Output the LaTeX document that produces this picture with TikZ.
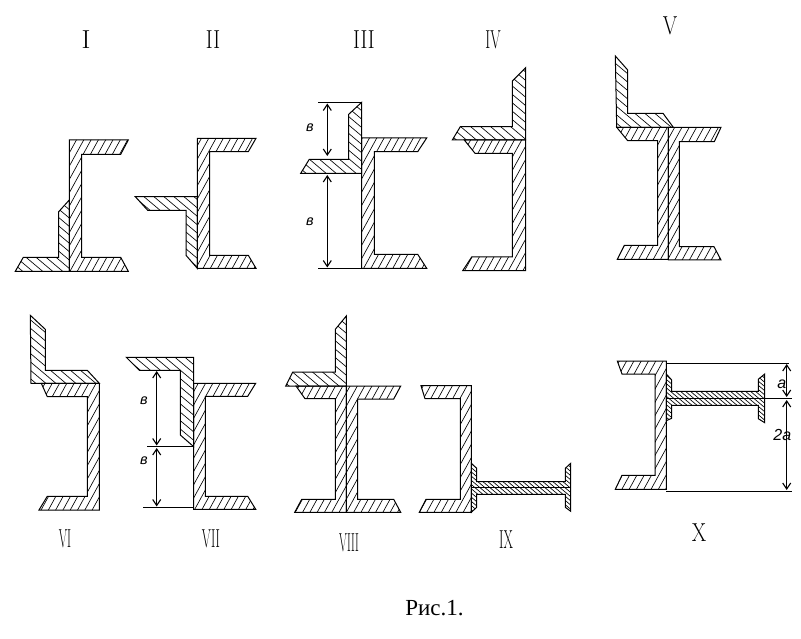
\documentclass[tikz,border=0pt]{standalone}
\usepackage{fontspec}
\newfontfamily\capfont{Liberation Serif}
\newfontfamily\dimfont{Liberation Sans}
\usetikzlibrary{arrows.meta}
\tikzset{
    hatch/.style={line width=0.65pt},
    outline/.style={draw,line width=1pt}
}
% hatched sections: path is clipped, lines are laid over the whole sheet
\newcommand{\hatchChan}[1]{%
    \begin{scope}\clip #1;
        \foreach \k in {0,7.3,...,1160} \draw[hatch] (\k,0) -- ({\k-351},639);
    \end{scope}
    \draw[outline] #1;}
\newcommand{\hatchCorner}[1]{%
    \begin{scope}\clip #1;
        \foreach \k in {-770,-760,...,810} \draw[hatch] (\k,0) -- ({\k+760},639);
    \end{scope}
    \draw[outline] #1;}
\newcommand{\hatchBeam}[1]{%
    \begin{scope}\clip #1;
        \foreach \k in {-200,-195,...,340} \draw[hatch] (\k,0) -- ({\k+760},639);
    \end{scope}
    \draw[outline] #1;}
\begin{document}
\begin{tikzpicture}[x=1pt,y=-1pt,line join=miter]
        \tikzstyle{ext}=[line width=1pt]
        \tikzstyle{dim}=[line width=1.1pt,{Straight Barb[length=6pt,width=8pt]}-{Straight Barb[length=6pt,width=8pt]}]
        \tikzstyle{numeral}=[inner sep=0pt,xscale=0.8,font=\fontsize{26}{26}\selectfont]
        \tikzstyle{dimlabel}=[inner sep=0pt,font=\dimfont\itshape\fontsize{14.5}{15}\selectfont]
        \tikzstyle{dimlabelbig}=[inner sep=0pt,font=\dimfont\itshape\fontsize{16}{16}\selectfont]
        \path[use as bounding box,fill=white] (0,0) rectangle (801,639);
        % I
        \hatchChan{(69.3,140) -- (128.3,140) -- (120.7,154.3) -- (81.7,154.3) -- (81.7,257.3) -- (120.7,257.3) -- (128.3,271.3) -- (69.3,271.3) -- cycle}
        \hatchCorner{(69.3,200) -- (58.7,211.7) -- (58.7,257.3) -- (23.3,257.3) -- (15.3,271.3) -- (69.3,271.3) -- cycle}
        \node[numeral,xscale=1.3] (numI) at (86,40) {I};
        % II
        \hatchChan{(197.3,138.3) -- (256,138.3) -- (248.3,151.7) -- (209.7,151.7) -- (209.7,255.3) -- (248.3,255.3) -- (256,268.3) -- (197.3,268.3) -- cycle}
        \hatchCorner{(197.3,196.7) -- (135.3,196.7) -- (147.7,210.3) -- (186,210.3) -- (186,255.3) -- (197.3,268.3) -- cycle}
        \node[numeral] (numII) at (213,40) {II};
        % III
        \hatchChan{(361.7,138) -- (426.7,138) -- (417.7,151.7) -- (374.3,151.7) -- (374.3,254.3) -- (417.7,254.3) -- (426.7,268.3) -- (361.7,268.3) -- cycle}
        \hatchCorner{(361.7,102.3) -- (348.7,114.3) -- (348.7,159.3) -- (309.3,159.3) -- (300.7,173.3) -- (361.7,173.3) -- cycle}
        \coordinate (topL) at (318.3,102.3);
        \coordinate (topR) at (361.7,102.3);
        \coordinate (botL) at (318.3,268.3);
        \coordinate (botR) at (361.7,268.3);
        \coordinate (b1) at (327.3,103.5);
        \coordinate (b2) at (327.3,156);
        \coordinate (b3) at (327.3,175);
        \coordinate (b4) at (327.3,267.5);
        \draw[ext] (topL) -- (topR);
        \draw[ext] (botL) -- (botR);
        \draw[dim] (b1) -- (b2);
        \draw[dim] (b3) -- (b4);
        \node[dimlabel] (lenA) at (310,128) {в};
        \node[dimlabel] (lenB) at (310,222) {в};
        \node[numeral] (numIII) at (364,40) {III};
        % IV
        \hatchChan{(525.7,140) -- (464.3,140) -- (475,153.3) -- (512.3,153.3) -- (512.3,257) -- (471.7,257) -- (462.7,270.7) -- (525.7,270.7) -- cycle}
        \hatchCorner{(525.7,67.7) -- (512.3,81) -- (512.3,126.7) -- (460.3,126.7) -- (452.3,140) -- (525.7,140) -- cycle}
        \node[numeral,xscale=0.72] (numIV) at (493,40) {IV};
        % V
        \hatchChan{(668.3,127.3) -- (616.7,127.3) -- (627.7,140.7) -- (657.7,140.7) -- (657.7,245.3) -- (624.3,245.3) -- (617.3,259.3) -- (668.3,259.3) -- cycle}
        \hatchChan{(668.3,127.3) -- (721,127.3) -- (714.3,141.7) -- (679.3,141.7) -- (679.3,246.7) -- (714,246.7) -- (721,260) -- (668.3,260) -- cycle}
        \hatchCorner{(615.3,56) -- (627.7,70) -- (627.7,113.3) -- (663,113.3) -- (673.3,127.3) -- (616.7,127.3) -- cycle}
        \node[numeral] (numV) at (670,26) {V};
        % VI
        \hatchChan{(99.3,383.3) -- (41.3,383.3) -- (47.3,396.7) -- (87.3,396.7) -- (87.3,496.3) -- (47.3,496.3) -- (39,510) -- (99.3,510) -- cycle}
        \hatchCorner{(30.3,315.3) -- (45.3,329.3) -- (45.3,370.3) -- (87.3,370.3) -- (99.3,383.3) -- (31,383.3) -- cycle}
        \node[numeral,xscale=0.58] (numVI) at (65,539) {VI};
        % VII
        \hatchChan{(193.7,383.3) -- (255.7,383.3) -- (247.7,396.3) -- (205.3,396.3) -- (205.3,496.3) -- (247.7,496.3) -- (255.7,509.3) -- (193.7,509.3) -- cycle}
        \hatchCorner{(193.7,357.3) -- (126.3,357.3) -- (139.3,370.3) -- (180.3,370.3) -- (180.3,435) -- (193.7,446.7) -- cycle}
        \coordinate (midL) at (147.3,446.3);
        \coordinate (midR) at (193.7,446.3);
        \coordinate (lowL) at (143.3,507.3);
        \coordinate (lowR) at (193.7,507.3);
        \coordinate (c1) at (156.7,371);
        \coordinate (c2) at (156.7,445.5);
        \coordinate (c3) at (156.7,448);
        \coordinate (c4) at (156.7,506.5);
        \draw[ext] (midL) -- (midR);
        \draw[ext] (lowL) -- (lowR);
        \draw[dim] (c1) -- (c2);
        \draw[dim] (c3) -- (c4);
        \node[dimlabel] (lenC) at (144,401) {в};
        \node[dimlabel] (lenD) at (144,461) {в};
        \node[numeral,xscale=0.63] (numVII) at (211,539) {VII};
        % VIII
        \hatchChan{(346.3,386) -- (296,386) -- (305,398.7) -- (335.3,398.7) -- (335.3,499.3) -- (301.7,499.3) -- (294.7,512.3) -- (346.3,512.3) -- cycle}
        \hatchChan{(346.3,386) -- (400.7,386) -- (393.7,399) -- (357.7,399) -- (357.7,499.3) -- (393.7,499.3) -- (400.7,512.3) -- (346.3,512.3) -- cycle}
        \hatchCorner{(346.3,316) -- (335.3,329.3) -- (335.3,372) -- (292.7,372) -- (285.7,386) -- (346.3,386) -- cycle}
        \node[numeral,xscale=0.55] (numVIII) at (349,543) {VIII};
        % IX
        \hatchChan{(471.3,385.7) -- (421,385.7) -- (425,398.7) -- (460.3,398.7) -- (460.3,499.3) -- (426,499.3) -- (419.3,512.3) -- (471.3,512.3) -- cycle}
        \hatchBeam{(471.3,463.3) -- (476.7,468.3) -- (476.7,481.7) -- (565.3,481.7) -- (565.3,468.3) -- (570.7,463.3) -- (570.7,511.3) -- (565.3,507.3) -- (565.3,494.3) -- (476.7,494.3) -- (476.7,507.3) -- (471.3,512.3) -- cycle}
        \coordinate (webA) at (471.3,487.3);
        \coordinate (webB) at (570.7,487.3);
        \draw[ext] (webA) -- (webB);
        \node[numeral,xscale=0.65] (numIX) at (506,540) {IX};
        % X
        \hatchChan{(666.3,361) -- (617.3,361) -- (622,374) -- (655,374) -- (655,475.3) -- (622,475.3) -- (615.3,489.3) -- (666.3,489.3) -- cycle}
        \hatchBeam{(666.3,374) -- (671.7,380) -- (671.7,391.3) -- (758.3,391.3) -- (758.3,379.3) -- (764.7,374) -- (764.7,422.7) -- (758.3,418.7) -- (758.3,405.3) -- (671.7,405.3) -- (671.7,418.3) -- (666.3,420.7) -- cycle}
        \coordinate (d1L) at (666.3,363.3);
        \coordinate (d1R) at (789,363.3);
        \coordinate (d2L) at (666.3,398.3);
        \coordinate (d2R) at (791.7,398.3);
        \coordinate (d3L) at (666.3,491.3);
        \coordinate (d3R) at (791.7,491.3);
        \coordinate (e1) at (786.7,364);
        \coordinate (e2) at (786.7,397);
        \coordinate (e3) at (786.7,400);
        \coordinate (e4) at (786.7,490);
        \draw[ext] (d1L) -- (d1R);
        \draw[ext] (d2L) -- (d2R);
        \draw[ext] (d3L) -- (d3R);
        \draw[dim] (e1) -- (e2);
        \draw[dim] (e3) -- (e4);
        \node[dimlabelbig] (lenE) at (781.7,384) {a};
        \node[dimlabelbig] (lenF) at (782.3,435) {2a};
        \node[numeral] (numX) at (699,533) {X};
        % caption
        \node[inner sep=0pt,font=\capfont\fontsize{23}{23}\selectfont] (caption) at (434.5,608) {Рис.1.};
    \end{tikzpicture}
\end{document}
